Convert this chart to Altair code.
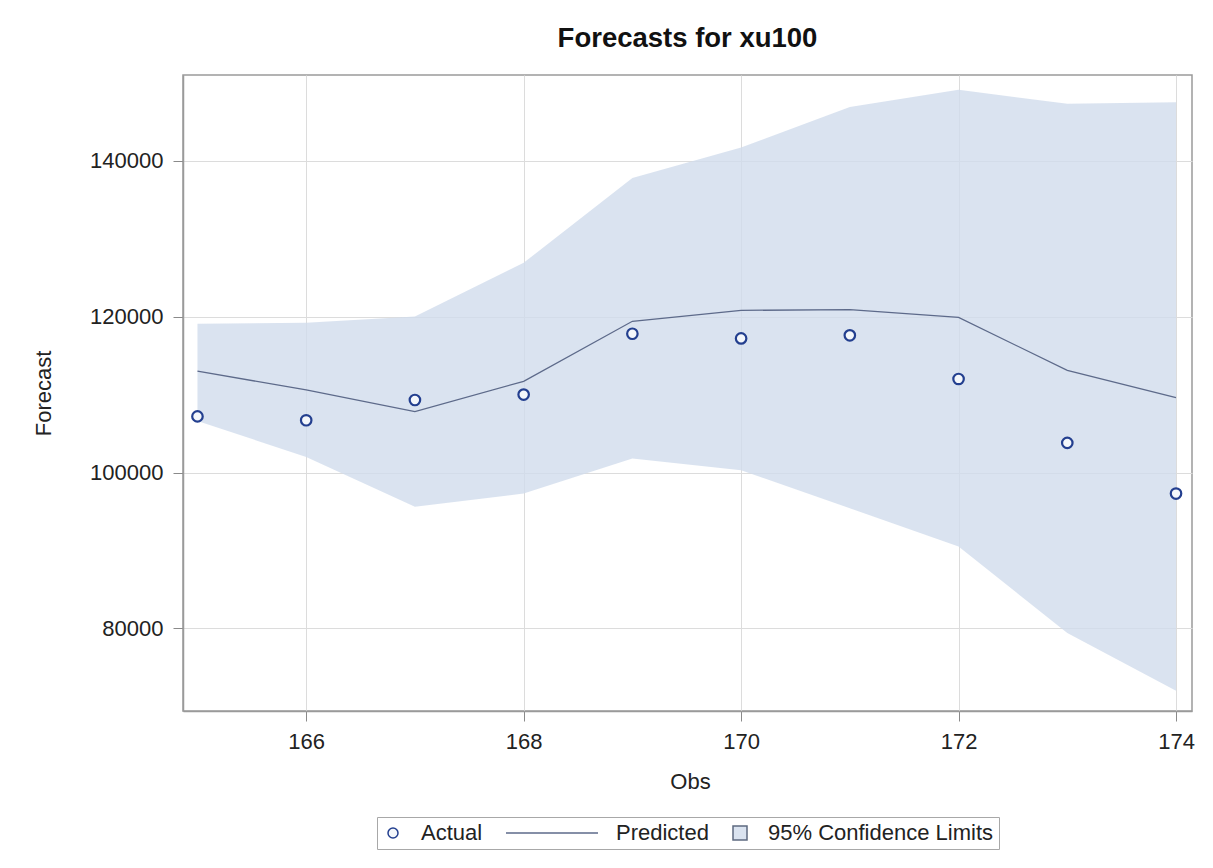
import altair as alt
import pandas as pd

obs = [165, 166, 167, 168, 169, 170, 171, 172, 173, 174]
actual = [107200, 106700, 109300, 110000, 117800, 117200, 117600, 112000, 103800, 97300]
predicted = [113000, 110600, 107800, 111700, 119400, 120800, 120900, 119900, 113100, 109600]
upper = [119100, 119200, 120000, 126900, 137800, 141700, 146900, 149100, 147300, 147500]
lower = [106600, 102000, 95600, 97300, 101800, 100300, 95400, 90500, 79400, 72000]

x_ticks = [166, 168, 170, 172, 174]
y_ticks = [80000, 100000, 120000, 140000]
series_names = ["Actual", "Predicted", "95% Confidence Limits"]

df = pd.DataFrame({"obs": obs, "actual": actual, "predicted": predicted,
                   "upper": upper, "lower": lower, "series": series_names[0]})

FONT = "Liberation Sans"
BAND = "#D1DCEC"
LINE = "#5D6A8A"
PT = "#233F8F"

xscale = alt.Scale(domain=[164.867, 174.147], nice=False, zero=False)
yscale = alt.Scale(domain=[69400, 151000], nice=False, zero=False)

xaxis = alt.Axis(values=x_ticks, title="Obs", format="d", grid=True,
                 titleX=507, titleY=70, titleBaseline="middle", titleAlign="center")
yaxis = alt.Axis(values=y_ticks, title="Forecast", format="d", grid=True,
                 titleX=-140, titleY=318, titleAngle=-90,
                 titleBaseline="middle", titleAlign="center")

base = alt.Chart(df)

band = base.mark_area(color=BAND, opacity=0.8).encode(
    x=alt.X("obs:Q", scale=xscale, axis=xaxis),
    y=alt.Y("lower:Q", scale=yscale, axis=yaxis),
    y2="upper:Q",
)

line = base.mark_line(color=LINE, strokeWidth=1.3).encode(
    x="obs:Q", y="predicted:Q"
)

legend = alt.Legend(
    title=None, orient="none", legendX=194, legendY=742, direction="horizontal",
    strokeColor="#A8A8A8", fillColor="white", padding=5, columnPadding=20,
    labelFont=FONT, labelFontSize=22, labelColor="#222222", labelLimit=500,
    symbolSize=100, symbolStrokeWidth=1.5, labelOffset=17,
)

points = base.mark_point(size=110, strokeWidth=2.2, opacity=1, filled=False).encode(
    x="obs:Q", y="actual:Q",
    shape=alt.Shape("series:N", legend=legend, scale=alt.Scale(
        domain=series_names,
        range=["circle", "M-16.4,0L2,0", "M-1.4,-1.4L1.4,-1.4L1.4,1.4L-1.4,1.4Z"])),
    stroke=alt.Stroke("series:N", legend=legend, scale=alt.Scale(
        domain=series_names, range=[PT, LINE, "#5E6A80"])),
    fill=alt.Fill("series:N", legend=legend, scale=alt.Scale(
        domain=series_names, range=["#F4F7FB", "transparent", "#DAE3F0"])),
)

chart = alt.layer(band, line, points).properties(
    width=1009, height=636,
    title=alt.TitleParams("Forecasts for xu100", font=FONT, fontSize=27.5,
                          fontWeight="bold", color="#111111", anchor="middle",
                          baseline="alphabetic", offset=1, frame="group"),
    autosize=alt.AutoSizeParams(type="none"),
    padding={"left": 175, "top": 67, "right": 10, "bottom": 145},
).configure_view(
    stroke="#9A9A9A", strokeWidth=1.5
).configure_axis(
    labelFont=FONT, labelFontSize=22, labelColor="#222222",
    titleFont=FONT, titleFontSize=22, titleColor="#222222", titleFontWeight="normal",
    gridColor="#DCDCDC", gridWidth=1, domainColor="#9A9A9A", domainWidth=1.5,
    tickColor="#8A8A8A", tickSize=10, labelPadding=10,
)

chart.save("out.html", embed_options={"renderer": "svg", "actions": False})
